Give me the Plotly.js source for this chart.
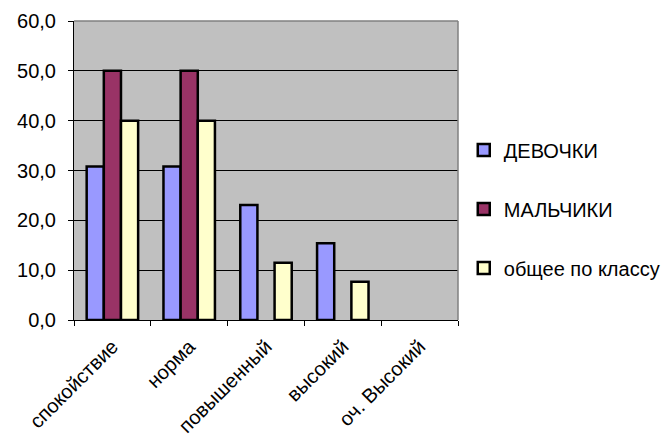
<!DOCTYPE html>
<html>
<head>
<meta charset="utf-8">
<script src="https://cdn.plot.ly/plotly-3.0.1.min.js"></script>
<style>
  html, body { margin: 0; padding: 0; background: #ffffff; }
  #chart { width: 669px; height: 441px; }
</style>
</head>
<body>
<div id="chart"></div>
<script>
// Уровни тревожности (категории оси X)
const categories = ['спокойствие', 'норма', 'повышенный', 'высокий', 'оч. Высокий'];

// Проценты по группам
const girls = [30.8, 30.8, 23.1, 15.4, 0];
const boys = [50.0, 50.0, 0, 0, 0];
const wholeClass = [40.0, 40.0, 11.5, 7.7, 0];

const seriesNames = ['ДЕВОЧКИ', 'МАЛЬЧИКИ', 'общее по классу'];
const seriesColors = ['#9999ff', '#993366', '#ffffcc'];
const seriesValues = [girls, boys, wholeClass];

const yTicks = [0, 10, 20, 30, 40, 50, 60];

const font = { family: 'Liberation Sans, Arial, sans-serif', size: 20, color: '#000000' };

const traces = seriesValues.map((vals, i) => ({
  type: 'bar',
  x: categories,
  y: vals,
  name: seriesNames[i],
  legendgroup: 'g' + i,
  marker: {
    color: seriesColors[i],
    // у нулевых столбцов контур не рисуется
    line: { color: '#000000', width: vals.map(v => (v > 0 ? 2.5 : 0)) }
  },
  hoverinfo: 'skip'
}));

const layout = {
  width: 669,
  height: 441,
  margin: { l: 74, r: 211, t: 21, b: 121, autoexpand: false },
  paper_bgcolor: '#ffffff',
  plot_bgcolor: '#c0c0c0',
  separators: ', ',
  font: font,
  barmode: 'group',
  bargap: 0.33,
  bargroupgap: 0,
  showlegend: true,
  legend: {
    x: 1.015, xanchor: 'left',
    y: 0.371, yanchor: 'middle',
    font: font,
    bgcolor: 'rgba(0,0,0,0)',
    traceorder: 'grouped',
    tracegroupgap: 30,
    itemclick: false
  },
  xaxis: {
    type: 'category',
    tickangle: -45,
    ticks: 'outside',
    tickson: 'boundaries',
    ticklen: 5,
    tickcolor: '#000000',
    ticklabelstandoff: 6,
    showline: true,
    linecolor: '#000000',
    linewidth: 1,
    showgrid: false,
    tickfont: font,
    fixedrange: true
  },
  yaxis: {
    range: [0, 60],
    tickvals: yTicks,
    tickformat: '.1f',
    ticks: 'outside',
    ticklen: 5,
    tickcolor: '#000000',
    ticklabelstandoff: 8,
    showline: true,
    linecolor: '#000000',
    linewidth: 1,
    showgrid: true,
    gridcolor: '#000000',
    gridwidth: 1,
    zeroline: false,
    tickfont: font,
    fixedrange: true
  },
  shapes: [
    // рамка области построения (серая) сверху и справа
    { type: 'line', xref: 'paper', yref: 'paper', x0: 0, x1: 1, y0: 1, y1: 1,
      line: { color: '#808080', width: 1.5 } },
    { type: 'line', xref: 'paper', yref: 'paper', x0: 1, x1: 1, y0: 0, y1: 1,
      line: { color: '#808080', width: 1.5 } }
  ]
};

Plotly.newPlot('chart', traces, layout, { displayModeBar: false, staticPlot: true });
</script>
</body>
</html>
